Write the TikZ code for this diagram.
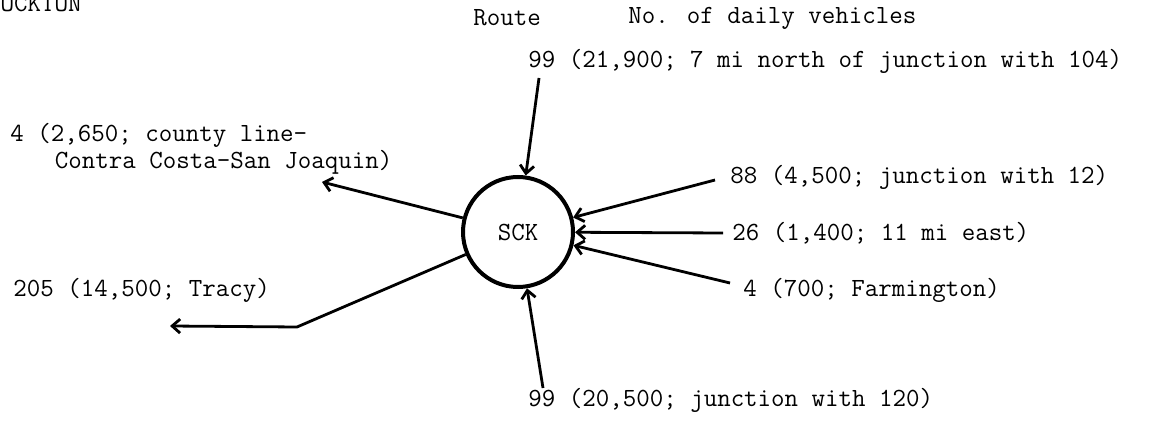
\documentclass[tikz,border=0pt]{standalone}
\usetikzlibrary{arrows.meta}

\begin{document}
\begin{tikzpicture}[x=0.5pt,y=-0.5pt,
    every node/.style={font=\ttfamily\fontsize{13.1}{13.6}\selectfont,inner sep=0pt},
    lbl/.style={anchor=west,align=left},
    town/.style={circle,draw,line width=2pt,minimum size=55pt},
    route/.style={line width=1.4pt,-{Straight Barb[length=4pt,width=7pt,line width=1.4pt]}}]
        \useasboundingbox (0,0) rectangle (1170,421);
        \node[anchor=east] (city) at (82,4) {STOCKTON};
        \node[anchor=west] (hroute) at (473,18) {Route};
        \node[anchor=west] (hcount) at (628,18) {No. of daily vehicles};
        \node[town] (sck) at (518,232) {SCK};
        \node[lbl] (n99n) at (528,61) {99 (21,900; 7 mi north of junction with 104)};
        \node[lbl] (n4w) at (10,149) {4 (2,650; county line-\\\hspace*{1.7em}Contra Costa-San Joaquin)};
        \node[lbl] (n205) at (13,290) {205 (14,500; Tracy)};
        \node[lbl] (n88) at (730,177) {88 (4,500; junction with 12)};
        \node[lbl] (n26) at (732,233) {26 (1,400; 11 mi east)};
        \node[lbl] (n4e) at (743,290) {4 (700; Farmington)};
        \node[lbl] (n99s) at (528,400) {99 (20,500; junction with 120)};
        \coordinate (c99n) at (539,78);
        \coordinate (c88) at (715,180);
        \coordinate (c26) at (723,233);
        \coordinate (c4e) at (730,283);
        \coordinate (c99s) at (543,388);
        \coordinate (c4w) at (322,182);
        \coordinate (cbend) at (297,327);
        \coordinate (c205) at (170,326);
        \draw[route] (c99n) -- (sck);
        \draw[route] (c88) -- (sck);
        \draw[route] (c26) -- (sck);
        \draw[route] (c4e) -- (sck);
        \draw[route] (c99s) -- (sck);
        \draw[route] (sck) -- (c4w);
        \draw[route] (sck) -- (cbend) -- (c205);
\end{tikzpicture}
\end{document}
